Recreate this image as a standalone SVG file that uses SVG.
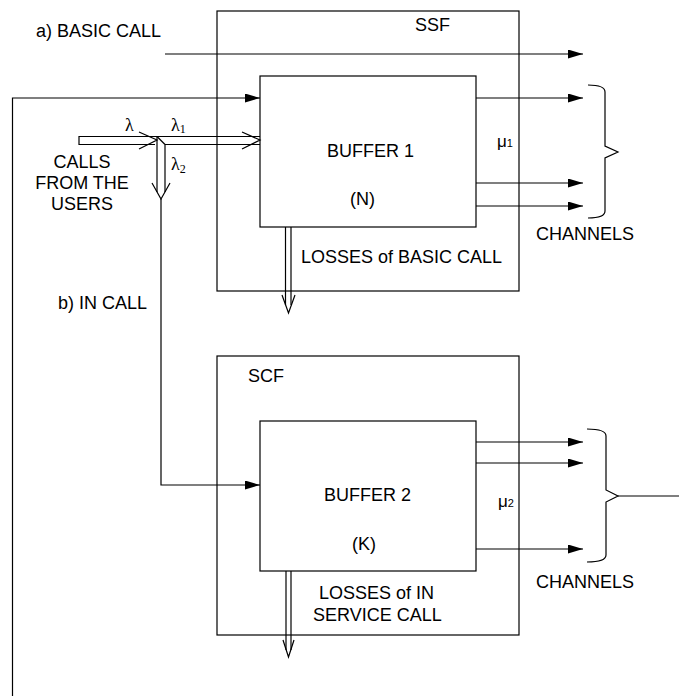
<svg xmlns="http://www.w3.org/2000/svg" width="679" height="696" viewBox="0 0 679 696">
<style>
.box{fill:none;stroke:#000;stroke-width:1.2}
.ln{fill:none;stroke:#000;stroke-width:1.2}
.t{font-family:"Liberation Sans",Arial,sans-serif;font-size:18px;fill:#000}
.s{font-family:"Liberation Sans",Arial,sans-serif;font-size:17px;fill:#000}
.g{font-family:"Liberation Serif","Times New Roman",serif;font-size:18px;fill:#000}
.sub{font-size:12px}
</style>
<defs>
<marker id="ah" viewBox="0 0 15 9" refX="15" refY="4.5" markerWidth="15" markerHeight="9" markerUnits="userSpaceOnUse" orient="auto">
<path d="M0,0 L15,4.5 L0,9 Z" fill="#000"/>
</marker>
</defs>
<g id="ssf">
<rect class="box" x="217" y="11" width="302" height="280"/>
<text class="t" x="415" y="31">SSF</text>
</g>
<g id="buffer1">
<rect class="box" x="260" y="76" width="216" height="151"/>
<text class="t" x="327" y="157">BUFFER 1</text>
<text class="t" x="350" y="205">(N)</text>
</g>
<g id="scf">
<rect class="box" x="217" y="356" width="302" height="279"/>
<text class="t" x="248" y="382">SCF</text>
</g>
<g id="buffer2">
<rect class="box" x="260" y="421" width="216" height="150"/>
<text class="t" x="324" y="501">BUFFER 2</text>
<text class="t" x="352" y="550">(K)</text>
</g>
<g id="labels">
<text class="t" x="36" y="37">a) BASIC CALL</text>
<text class="t" x="82" y="168" text-anchor="middle">CALLS</text>
<text class="t" x="82" y="189" text-anchor="middle">FROM THE</text>
<text class="t" x="82" y="210" text-anchor="middle">USERS</text>
<text class="g" x="125" y="131">λ</text>
<text class="g" x="171" y="131">λ<tspan class="sub" dy="2">1</tspan></text>
<text class="g" x="171" y="170">λ<tspan class="sub" dy="3">2</tspan></text>
<text class="s" x="497" y="147">μ<tspan font-size="11">1</tspan></text>
<text class="s" x="498" y="507">μ<tspan font-size="11">2</tspan></text>
<text class="t" x="536" y="240">CHANNELS</text>
<text class="t" x="536" y="588">CHANNELS</text>
<text class="t" x="502" y="263" text-anchor="end">LOSSES of BASIC CALL</text>
<text class="t" x="58" y="309">b) IN CALL</text>
<text class="t" x="319" y="599">LOSSES of IN</text>
<text class="t" x="313" y="621">SERVICE CALL</text>
</g>
<g id="connectors">
<line class="ln" x1="165" y1="54" x2="583" y2="54" marker-end="url(#ah)"/>
<polyline class="ln" points="12.5,696 12.5,98 260,98" marker-end="url(#ah)"/>
<line class="ln" x1="476" y1="98" x2="583" y2="98" marker-end="url(#ah)"/>
<line class="ln" x1="476" y1="183" x2="583" y2="183" marker-end="url(#ah)"/>
<line class="ln" x1="476" y1="206" x2="583" y2="206" marker-end="url(#ah)"/>
<path class="ln" d="M588,85 Q605,85 605,92 L605,146 L618,152 L605,158 L605,211 Q605,218 588,218"/>
<line class="ln" x1="476" y1="442" x2="583" y2="442" marker-end="url(#ah)"/>
<line class="ln" x1="476" y1="463" x2="583" y2="463" marker-end="url(#ah)"/>
<line class="ln" x1="476" y1="549" x2="583" y2="549" marker-end="url(#ah)"/>
<path class="ln" d="M587,429 Q606,429 606,436 L606,490 L618,496 L606,502 L606,555 Q606,562 587,562"/>
<line class="ln" x1="618" y1="496" x2="679" y2="496"/>
<path class="ln" d="M157,136.5 L79,136.5 L79,144.5 L155,144.5"/>
<path class="ln" d="M139,132 L157,140 L139,149"/>
<line class="ln" x1="157" y1="136.5" x2="260" y2="136.5"/>
<line class="ln" x1="165" y1="144.5" x2="260" y2="144.5"/>
<path class="ln" d="M242,132 L260,140 L242,149"/>
<line class="ln" x1="157" y1="136.5" x2="165" y2="144.5"/>
<line class="ln" x1="157" y1="136.5" x2="157" y2="192"/>
<line class="ln" x1="165" y1="144.5" x2="165" y2="192"/>
<path class="ln" d="M152,183 L161,199 L170,183"/>
<polyline class="ln" points="161,199 161,485 260,485" marker-end="url(#ah)"/>
<line class="ln" x1="285.5" y1="227" x2="285.5" y2="305"/>
<line class="ln" x1="291" y1="227" x2="291" y2="305"/>
<path class="ln" d="M282,295 L288.5,313 L295,295"/>
<line class="ln" x1="286" y1="571" x2="286" y2="650"/>
<line class="ln" x1="291" y1="571" x2="291" y2="650"/>
<path class="ln" d="M283,640 L288.5,657 L294,640"/>
</g>
</svg>
